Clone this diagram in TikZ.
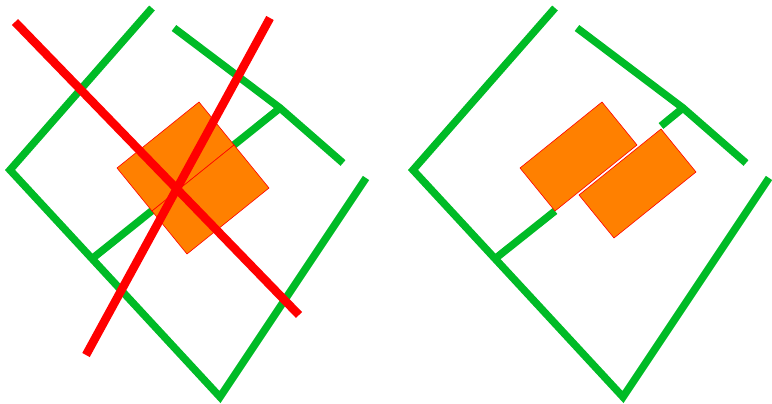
\documentclass[tikz,border=0pt]{standalone}
\definecolor{wallgreen}{RGB}{0,187,38}
\definecolor{slaborange}{RGB}{255,128,0}
\definecolor{cutred}{RGB}{255,0,0}
\begin{document}
\begin{tikzpicture}[x=1pt,y=-1pt,
  wall/.style={draw=wallgreen,line width=7.5pt,line join=miter},
  cut/.style={draw=cutred,line width=8.5pt},
  slab/.style={fill=slaborange,draw=cutred,line width=0.6pt,line join=miter}]
\useasboundingbox (0,0) rectangle (772,404);
% ---------- left panel ----------
\coordinate (a1) at (152,8);
\coordinate (a2) at (10,170);
\coordinate (a3) at (220,397);
\coordinate (a4) at (366,178);
\coordinate (b1) at (174,28);
\coordinate (b2) at (280,108);
\coordinate (b3) at (343,163);
\coordinate (c1) at (93,258);
\draw[wall] (a1) -- (a2) -- (a3) -- (a4);
\draw[wall] (b1) -- (b2) -- (b3);
\draw[wall] (b2) -- (c1);
\coordinate (p1) at (199,102);
\coordinate (p2) at (234,145);
\coordinate (p3) at (152,211);
\coordinate (p4) at (117,168);
\coordinate (q1) at (234,145);
\coordinate (q2) at (269,188);
\coordinate (q3) at (187,254);
\coordinate (q4) at (152,211);
\draw[slab] (p1) -- (p2) -- (p3) -- (p4) -- cycle;
\draw[slab] (q1) -- (q2) -- (q3) -- (q4) -- cycle;
\coordinate (r1) at (15,22);
\coordinate (r2) at (299,315);
\coordinate (r3) at (270,18);
\coordinate (r4) at (86,355);
\draw[cut] (r1) -- (r2);
\draw[cut] (r3) -- (r4);
% ---------- right panel ----------
\coordinate (A1) at (555,8);
\coordinate (A2) at (413,170);
\coordinate (A3) at (623,397);
\coordinate (A4) at (769,178);
\coordinate (B1) at (577,28);
\coordinate (B2) at (683,108);
\coordinate (B3) at (746,163);
\coordinate (B4) at (661,126);
\coordinate (C1) at (496,258);
\coordinate (C2) at (555,211);
\draw[wall] (A1) -- (A2) -- (A3) -- (A4);
\draw[wall] (B1) -- (B2) -- (B3);
\draw[wall] (B2) -- (B4);
\draw[wall] (C1) -- (C2);
\coordinate (P1) at (602,102);
\coordinate (P2) at (637,145);
\coordinate (P3) at (555,211);
\coordinate (P4) at (520,168);
\coordinate (Q1) at (661,129);
\coordinate (Q2) at (696,172);
\coordinate (Q3) at (614,238);
\coordinate (Q4) at (579,195);
\draw[slab] (P1) -- (P2) -- (P3) -- (P4) -- cycle;
\draw[slab] (Q1) -- (Q2) -- (Q3) -- (Q4) -- cycle;
\end{tikzpicture}
\end{document}
